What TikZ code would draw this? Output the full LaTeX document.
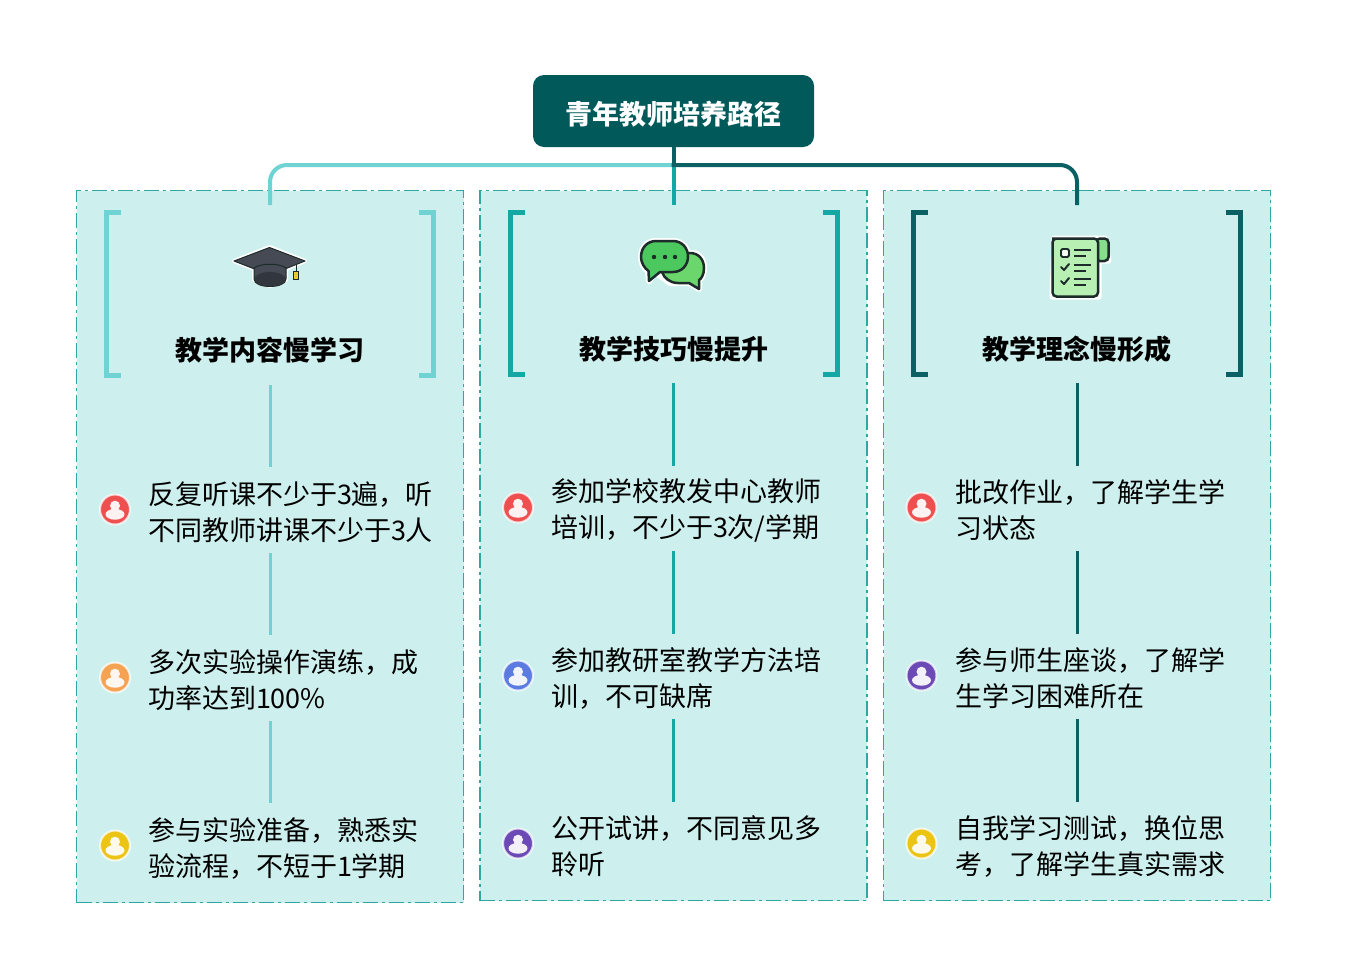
\documentclass[tikz,border=0pt]{standalone}
\usepackage{fontspec}
\setmainfont{Noto Sans CJK SC}
\definecolor{cone}{HTML}{70D3D3}
\definecolor{ctwo}{HTML}{14A8A5}
\definecolor{cthree}{HTML}{0B6063}
\definecolor{rootc}{HTML}{02595A}
\definecolor{panelc}{HTML}{CDF0EE}
\definecolor{dashc}{HTML}{2FA8A2}
\definecolor{ink}{HTML}{1D2B2B}
\definecolor{hatc}{HTML}{454A54}
\definecolor{hatd}{HTML}{32363E}
\definecolor{pred}{HTML}{EE5050}
\definecolor{porange}{HTML}{F5A252}
\definecolor{pyellow}{HTML}{EBC414}
\definecolor{pblue}{HTML}{5C7BE0}
\definecolor{ppurple}{HTML}{6C4AB6}
\tikzset{
  panel/.style={draw=dashc,fill=panelc,line width=1.2pt,dash pattern=on 15pt off 4pt on 3pt off 4pt,minimum width=388pt,inner sep=0pt},
  rootbox/.style={fill=rootc,text=white,rounded corners=11pt,minimum width=281pt,minimum height=72pt,text height=28pt,text depth=2pt,font=\fontsize{27}{36}\selectfont\bfseries},
  headtext/.style={text=black,inner sep=0pt,font=\fontsize{27}{36}\selectfont\bfseries},
  itemtext/.style={text=black,inner sep=0pt,anchor=west,align=left,font=\fontsize{27}{36}\selectfont},
  link/.style={line width=4pt,rounded corners=17pt},
  stem/.style={line width=3pt},
  bracket/.style={line width=5pt},
  badge/.style={circle,minimum size=30pt,inner sep=0pt,draw=white,draw opacity=.75,line width=2pt},
}
\newcommand{\persongl}[2]{%
  \fill[white,opacity=.92] (#1,#2-3.8) circle (5pt)
    (#1,#2+4.8) ellipse (9.5pt and 5.4pt);
}
\begin{document}
\begin{tikzpicture}[x=1pt,y=-1pt]
\useasboundingbox (0,0) rectangle (1347,978);
\fill[white] (0,0) rectangle (1347,978);

% panels
\node[panel,minimum height=712pt,minimum width=387pt] (p1) at (270,546.5) {};
\node[panel,minimum height=710pt,minimum width=387pt] (p2) at (673.5,545.5) {};
\node[panel,minimum height=710pt,minimum width=387pt] (p3) at (1077,545.5) {};

% root
\node[rootbox] (root) at (673.5,111) {青年教师培养路径};
\coordinate (t1) at (270,205);
\coordinate (t2) at (673.5,205);
\coordinate (t3) at (1077,205);
\coordinate (j) at (673.5,165);
\coordinate (jb) at (673.5,167);
\draw[link,cone] (j) -- (270,165) -- (t1);
\draw[line width=4pt,ctwo] (root.south) -- (t2);
\draw[line width=4pt,cthree] (root.south) -- (jb);
\draw[link,cthree] (j) ++(-2,0) -- (1077,165) -- (t3);

% brackets
\draw[bracket,cone] (121,212.5) -- (106.5,212.5) -- (106.5,375.5) -- (121,375.5);
\draw[bracket,cone] (419,212.5) -- (433.5,212.5) -- (433.5,375.5) -- (419,375.5);
\draw[bracket,ctwo] (525,212.5) -- (510,212.5) -- (510,374) -- (525,374);
\draw[bracket,ctwo] (823,212.5) -- (837.5,212.5) -- (837.5,374) -- (823,374);
\draw[bracket,cthree] (928,212.5) -- (913.5,212.5) -- (913.5,374) -- (928,374);
\draw[bracket,cthree] (1226,212.5) -- (1240.5,212.5) -- (1240.5,374) -- (1226,374);

% headings
\node[headtext] (h1) at (270,350) {教学内容慢学习};
\node[headtext] (h2) at (673.5,349) {教学技巧慢提升};
\node[headtext] (h3) at (1077,349) {教学理念慢形成};

% items
\node[itemtext] (a1) at (147.8,512.2) {反复听课不少于3遍，听\\不同教师讲课不少于3人};
\node[itemtext] (a2) at (147.8,680.2) {多次实验操作演练，成\\功率达到100\%};
\node[itemtext] (a3) at (147.8,848.2) {参与实验准备，熟悉实\\验流程，不短于1学期};
\node[itemtext] (b1) at (550.8,510.2) {参加学校教发中心教师\\培训，不少于3次/学期};
\node[itemtext] (b2) at (550.8,678.2) {参加教研室教学方法培\\训，不可缺席};
\node[itemtext] (b3) at (550.8,846.2) {公开试讲，不同意见多\\聆听};
\node[itemtext] (c1) at (954.8,510.2) {批改作业，了解学生学\\习状态};
\node[itemtext] (c2) at (954.8,678.2) {参与师生座谈，了解学\\生学习困难所在};
\node[itemtext] (c3) at (954.8,846.2) {自我学习测试，换位思\\考，了解学生真实需求};

% stems
\draw[stem,cone] (270,385) -- (270,467);
\draw[stem,cone] (270,553) -- (270,635);
\draw[stem,cone] (270,721) -- (270,803);
\draw[stem,ctwo] (673.5,383) -- (673.5,466);
\draw[stem,ctwo] (673.5,551) -- (673.5,634);
\draw[stem,ctwo] (673.5,719) -- (673.5,802);
\draw[stem,cthree] (1077,383) -- (1077,466);
\draw[stem,cthree] (1077,551) -- (1077,634);
\draw[stem,cthree] (1077,719) -- (1077,802);

% badges
\node[badge,fill=pred] (ia1) at (115,509.5) {}; \persongl{115}{509.5}
\node[badge,fill=porange] (ia2) at (115,677.5) {}; \persongl{115}{677.5}
\node[badge,fill=pyellow] (ia3) at (115,845.5) {}; \persongl{115}{845.5}
\node[badge,fill=pred] (ib1) at (518,507.5) {}; \persongl{518}{507.5}
\node[badge,fill=pblue] (ib2) at (518,675.5) {}; \persongl{518}{675.5}
\node[badge,fill=ppurple] (ib3) at (518,843.5) {}; \persongl{518}{843.5}
\node[badge,fill=pred] (ic1) at (921.5,507.5) {}; \persongl{921.5}{507.5}
\node[badge,fill=ppurple] (ic2) at (921.5,675.5) {}; \persongl{921.5}{675.5}
\node[badge,fill=pyellow] (ic3) at (921.5,843.5) {}; \persongl{921.5}{843.5}

% mortarboard icon
\draw[white,line width=4pt,line join=round,fill=white] (269.5,247) -- (305,261) -- (286,269) -- (286,280) -- (270,286) -- (254,280) -- (254,269) -- (234,261) -- cycle;
\fill[hatc,draw=ink,line width=1pt,line join=round] (269.5,247.5) -- (305,261) -- (270,275) -- (234,261) -- cycle;
\fill[hatc,draw=ink,line width=1pt] (254,268) .. controls (260,263) and (280,263) .. (286,268) -- (286,279) .. controls (286,289) and (254,289) .. (254,279) -- cycle;
\fill[hatd] (270,279) ellipse (15.5pt and 7pt);
\draw[ink,line width=1pt] (296,264) -- (296,272);
\fill[ink] (293,271) rectangle (299,280);
\fill[yellow!60!brown] (294.2,272) rectangle (297.8,279);

% chat icon
\definecolor{bubA}{HTML}{4CC95E}
\definecolor{bubB}{HTML}{6BD66B}
\draw[white,line width=6pt,line join=round] (665,255) -- (692,253) .. controls (700,253) and (704,260) .. (704,268) .. controls (704,275) and (701,279) .. (699,280) -- (699,289) -- (689,283) -- (670,283) -- (655,272) -- (649,281) -- (648,271) .. controls (643,268) and (641,262) .. (641,257) .. controls (641,247) and (648,241) .. (656,241) -- (673,241) .. controls (682,241) and (688,248) .. (688,256) -- cycle;
\fill[bubB,draw=ink,line width=2.5pt,line join=round] (668,254) -- (690,253) .. controls (699,253) and (704,260) .. (704,268) .. controls (704,275) and (701,279) .. (699,280) -- (699,289) -- (689,283) -- (678,283) .. controls (670,283) and (664,278) .. (662,272) -- cycle;
\fill[bubA,draw=ink,line width=2.5pt,line join=round] (656,241) -- (673,241) .. controls (682,241) and (688,248) .. (688,256.5) .. controls (688,265) and (682,272) .. (673,272) -- (660,272) -- (649,281) -- (648.5,271) .. controls (644,268) and (641,262) .. (641,257) .. controls (641,247) and (648,241) .. (656,241) -- cycle;
\fill[ink] (654,257) circle (2.2pt) (665,257) circle (2.2pt) (675,257) circle (2.2pt);

% checklist icon
\definecolor{pagec}{HTML}{B8F0B4}
\definecolor{foldc}{HTML}{85DE8A}
\draw[white,line width=5pt,line join=round] (1054,238) -- (1105,238) -- (1109,261) -- (1099,261) -- (1099,297) -- (1052,297) -- cycle;
\fill[foldc,draw=ink,line width=2.5pt,rounded corners=4pt] (1096,238.5) -- (1108.5,238.5) -- (1108.5,261) -- (1096,261) -- cycle;
\fill[pagec,draw=ink,line width=2.5pt,rounded corners=4pt] (1056,238.5) -- (1098,238.5) -- (1098,296.5) -- (1052.5,296.5) -- (1052.5,238.5) -- cycle;
\fill[white!85!pagec,draw=ink,line width=1.8pt,rounded corners=1.5pt] (1061,249) rectangle (1069,257);
\draw[ink,line width=2pt,line cap=round,line join=round]
  (1061,267) -- (1064,270) -- (1069,264)
  (1061,281) -- (1064,284) -- (1069,278);
\draw[ink,line width=2pt]
  (1074,249.5) -- (1091,249.5) (1074,255.5) -- (1086,255.5)
  (1074,265) -- (1091,265) (1074,271) -- (1086,271)
  (1074,279) -- (1091,279) (1074,285) -- (1086,285);
\end{tikzpicture}
\end{document}
